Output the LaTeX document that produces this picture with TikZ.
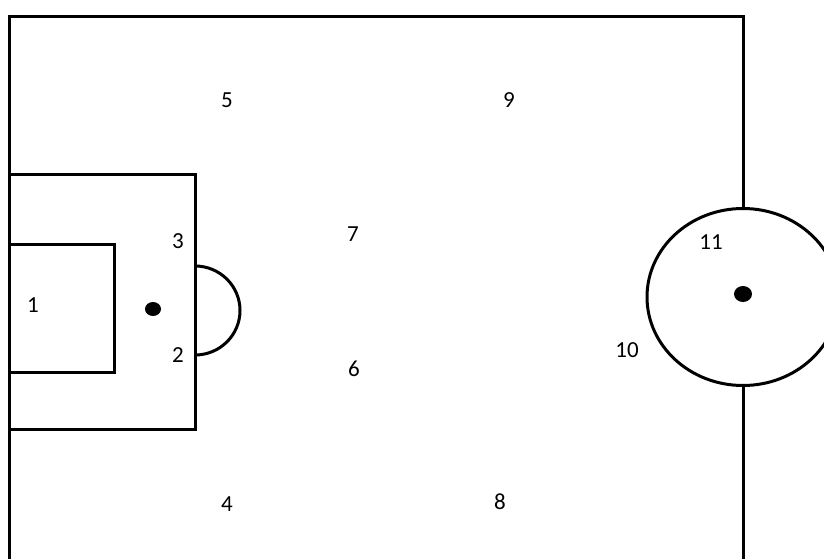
\documentclass[tikz,border=0pt]{standalone}
\usepackage{fontspec}
\setmainfont{Carlito}
\begin{document}
\begin{tikzpicture}[x=1pt,y=-1pt]
    % --- 样式定义 ---
    \tikzstyle{pitchline}=[line width=3pt, black]
    \tikzstyle{num}=[font=\fontsize{23}{23}\selectfont, inner sep=0pt]

    % 画布 (same size as the reference)
    \useasboundingbox (0,0) rectangle (824,559);
    \clip (0,0) rectangle (824,559);

    % ====== 半场外框 (Half Pitch) ======
    \draw[pitchline] (9,559) -- (9,17) -- (743,17) -- (743,559);

    % ====== 禁区 (Penalty Area) ======
    \draw[pitchline] (9,174) rectangle (195,429);
    % 小禁区
    \draw[pitchline] (9,244) rectangle (114,372);
    % 点球点
    \fill (153,309) ellipse (8 and 7);
    % 禁区弧
    \draw[pitchline] (195,266) arc (-90:90:45 and 44.5);

    % ====== 中圈 (Centre Circle) ======
    \draw[pitchline, fill=white] (743,297) ellipse (96 and 88.5);
    \fill (743,294) ellipse (9 and 8);

    % ====== 位置编号 ======
    \node[num] (n1)  at (33,305)  {1};
    \node[num] (n2)  at (178,355) {2};
    \node[num] (n3)  at (178,241) {3};
    \node[num] (n4)  at (227,504) {4};
    \node[num] (n5)  at (227,100) {5};
    \node[num] (n6)  at (354,369) {6};
    \node[num] (n7)  at (353,234) {7};
    \node[num] (n8)  at (500,502) {8};
    \node[num] (n9)  at (509,100) {9};
    \node[num] (n10) at (627,350) {10};
    \node[num] (n11) at (711,242) {11};

\end{tikzpicture}
\end{document}
